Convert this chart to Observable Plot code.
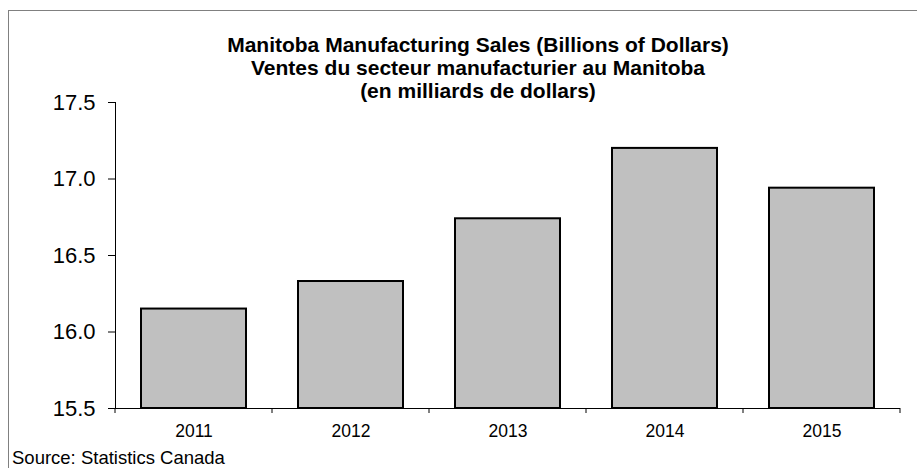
<!DOCTYPE html>
<html>
<head>
<meta charset="utf-8">
<script src="https://cdn.jsdelivr.net/npm/d3@7"></script>
<script src="https://cdn.jsdelivr.net/npm/@observablehq/plot@0.6"></script>
<style>
  html, body { margin: 0; padding: 0; background: #fff; }
  #wrap { position: relative; width: 917px; height: 468px; overflow: hidden; font-family: "Liberation Sans", Arial, sans-serif; }
  #border { position: absolute; left: 8px; top: 10px; width: 1000px; height: 1000px; border-left: 1px solid #808080; border-top: 1px solid #808080; }
  #title { position: absolute; left: 0; top: 33px; width: 956px; text-align: center; font-weight: bold; font-size: 21px; line-height: 23px; color: #000; }
  #source { position: absolute; left: 12px; top: 450px; font-size: 18.5px; line-height: 16px; color: #000; white-space: nowrap; }
  #chart { position: absolute; left: 0; top: 0; }
</style>
</head>
<body>
<div id="wrap">
  <div id="border"></div>
  <div id="chart"></div>
  <div id="title"></div>
  <div id="source"></div>
</div>
<script>
const titleLines = [
  "Manitoba Manufacturing Sales (Billions of Dollars)",
  "Ventes du secteur manufacturier au Manitoba",
  "(en milliards de dollars)"
];
const sourceText = "Source: Statistics Canada";
const years = ["2011", "2012", "2013", "2014", "2015"];
const sales = [16.15, 16.33, 16.74, 17.20, 16.94];
const yTicks = [15.5, 16.0, 16.5, 17.0, 17.5];

const data = years.map((year, i) => ({year, value: sales[i]}));
const yMin = yTicks[0];

document.getElementById("title").innerHTML = titleLines.map(t => `<div>${t}</div>`).join("");
document.getElementById("source").textContent = sourceText;

const padInner = 0.33;

// category boundary ticks (between bands), computed from the band scale
function boundaryTicks(index, scales, values, dimensions) {
  const x = scales.x;
  const step = typeof x.step === "function" ? x.step() : (x(years[1]) - x(years[0]));
  const bw = typeof x.bandwidth === "function" ? x.bandwidth() : step * (1 - padInner);
  const gap = (step - bw) / 2;
  const pos = years.map(d => x(d) - gap);
  pos.push(x(years[years.length - 1]) + bw + gap);
  const y0 = dimensions.height - dimensions.marginBottom;
  const g = d3.create("svg:g").attr("stroke", "#000").attr("stroke-width", 1);
  for (const p of pos) {
    g.append("line").attr("x1", p).attr("x2", p).attr("y1", y0).attr("y2", y0 + 5);
  }
  return g.node();
}

const chart = Plot.plot({
  width: 917,
  height: 468,
  marginLeft: 115,
  marginRight: 17,
  marginTop: 102,
  marginBottom: 60,
  style: { fontFamily: "'Liberation Sans', Arial, sans-serif", color: "#000", background: "transparent" },
  x: { domain: years, paddingInner: padInner, paddingOuter: padInner / 2, label: null },
  y: { domain: [yTicks[0], yTicks[yTicks.length - 1]], label: null },
  marks: [
    Plot.barY(data, { x: "year", y1: () => yMin, y2: "value", fill: "#c0c0c0", stroke: "#000", strokeWidth: 2 }),
    Plot.ruleY([yMin], { stroke: "#000", strokeWidth: 1 }),
    Plot.frame({ anchor: "left", stroke: "#000", strokeWidth: 1 }),
    Plot.axisY({ ticks: yTicks, tickFormat: d3.format(".1f"), tickSize: 7, tickPadding: 13, fontSize: 22, label: null, stroke: "#000" }),
    Plot.axisX({ tickSize: 0, tickPadding: 16, fontSize: 17.5, label: null }),
    boundaryTicks
  ]
});
document.getElementById("chart").appendChild(chart);
</script>
</body>
</html>
